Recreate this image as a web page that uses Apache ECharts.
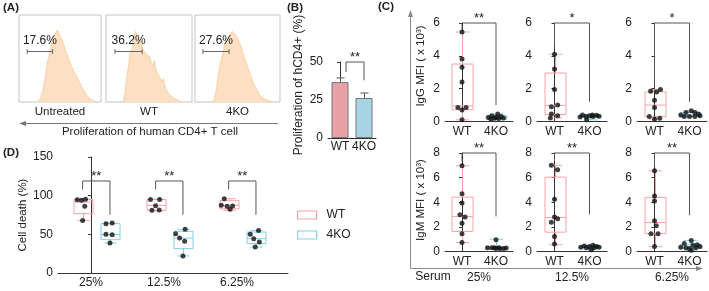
<!DOCTYPE html>
<html>
<head>
<meta charset="utf-8">
<title>CD4 proliferation / MFI / cell death</title>
<style>html,body{margin:0;padding:0;background:#fff;}</style>
</head>
<body>
<div id="container" style="width:709px;height:291px;"></div>
<script src="https://cdn.jsdelivr.net/npm/echarts@6/dist/echarts.min.js"></script>
<script>
// ---------- (A) flow histograms: [position %, height %]
var histUntreated = [[23,0],[27,5],[29,13],[32,28],[34,42],[37,55],[38,60],[40,68],[42,75],[43,73],[45,79],[47,83],[48,80],[49,82],[50,78],[52,72],[54,68],[56,61],[58.5,55],[61,48],[64,41],[67,35],[71,28],[74,22],[78,15],[80.5,11],[84,6],[88,3],[93,0]];
var histWT = [[20,0],[22,10],[24,29],[26,40],[27,38],[28,56],[30,60],[32,74],[33,72],[34,81],[35,79],[36,78],[37,70],[39,64],[40,72],[41,66],[43,60],[45,57],[47,54],[49,55],[51,52],[53,44],[54,40],[56,48],[57,42],[59,35],[62,29],[65,23],[67,27],[68,20],[70,14],[72,11],[74,8],[77,6],[80,4],[84,2],[88,0]];
var hist4KO = [[22,0],[25.5,17],[27,28],[29,41],[31,50],[33,56],[35,67],[37,71],[39,75],[41,78],[42,79],[44,81],[45,82],[46,80],[48,77],[50,74],[51,71],[53,66],[54,64],[56,58],[57,55],[59,48],[61,43],[63,37],[65,32],[67,26],[69,21],[71,17],[73,14],[76,8],[78,6],[80,5],[83,3],[86,2],[92,0]];
var histNames = ['Untreated', 'WT', '4KO'];
var gatePct = ['17.6%', '36.2%', '27.6%'];
var gateRange = [[10, 41], [10.5, 42], [9.4, 40]];
var gateLevel = 59;

// ---------- (B) proliferation bars
var bGroups = ['WT', '4KO'];
var bMean = [36.8, 26.3];
var bSd = [2.7, 3.3];
var bSig = '**';
var bBracket = [43.4, 38, 50]; // WT leg end, 4KO leg end, top

// ---------- (C) IgG / IgM MFI (x10^3), boxes [min, q1, median, q3, max], points [value, jitter]
var serum = ['25%', '12.5%', '6.25%'];
var cGroups = ['WT', '4KO'];
var igG_WT_box = [[0.1,0.72,0.95,3.5,5.45],[0.22,0.42,0.98,2.95,4.1],[0.15,0.3,1.0,1.8,1.95]];
var igG_KO_box = [[0.1,0.15,0.22,0.35,0.45],[0.1,0.25,0.32,0.4,0.42],[0.3,0.32,0.38,0.55,0.65]];
var igG_WT_pts = [
  [[5.45,0],[3.8,0],[3.3,0],[2.4,0],[0.85,-0.12],[0.85,0.12],[0.7,0],[0.1,0]],
  [[4.1,0],[3.2,0],[1.95,0],[1.0,0.09],[0.9,-0.09],[0.45,-0.09],[0.35,0.09],[0.22,-0.12]],
  [[1.95,0.17],[1.85,-0.11],[1.8,0.06],[1.3,0],[0.85,0],[0.3,-0.15],[0.15,0],[0.2,0.15]]
];
var igG_KO_pts = [
  [[0.45,0.05],[0.35,-0.12],[0.3,0.15],[0.25,-0.22],[0.22,0.22],[0.2,-0.05],[0.18,0.08],[0.15,-0.15],[0.25,0]],
  [[0.4,-0.2],[0.38,0.2],[0.35,0],[0.3,-0.1],[0.3,0.1],[0.28,-0.27],[0.32,0.27],[0.1,-0.08],[0.4,0.08]],
  [[0.65,0.05],[0.55,-0.1],[0.55,0.15],[0.45,0.25],[0.4,-0.25],[0.35,0.3],[0.3,-0.15],[0.3,0],[0.3,0.15]]
];
var igG_sig = ['**', '*', '*'];
var igG_bracket = [[5.6,1.0,6],[4.55,1.2,6],[2.2,1.2,6]];

var igM_WT_box = [[0.73,1.63,2.85,4.42,6.96],[0.55,1.57,2.76,6.04,7.0],[0.4,1.45,2.35,4.4,6.55]];
var igM_KO_box = [[0.2,0.22,0.27,0.35,1.0],[0.15,0.3,0.38,0.45,0.5],[0.1,0.25,0.35,0.55,0.9]];
var igM_WT_pts = [
  [[6.96,0],[4.7,0],[3.93,0],[2.98,-0.06],[2.8,0.09],[2.3,0],[1.45,0],[0.73,0]],
  [[7.0,-0.09],[6.64,0.09],[4.25,0],[2.8,0],[2.65,0.09],[2.38,-0.09],[1.22,0],[0.6,0]],
  [[6.55,0],[4.5,0],[4.1,0],[2.5,0],[2.1,0.05],[1.45,-0.1],[1.45,0.1],[0.4,0]]
];
var igM_KO_pts = [
  [[0.95,0],[0.3,-0.25],[0.3,-0.12],[0.25,0],[0.25,0.12],[0.25,0.22],[0.28,0.3],[0.3,-0.05],[0.3,0.08]],
  [[0.5,0.1],[0.45,-0.15],[0.4,0.2],[0.4,0],[0.35,-0.25],[0.35,0.27],[0.3,0.12],[0.3,-0.08],[0.15,0.05]],
  [[0.9,0.05],[0.65,-0.15],[0.55,0.22],[0.5,0.1],[0.35,-0.25],[0.3,-0.1],[0.25,0],[0.3,0.18],[0.4,0.3],[0.1,0.05]]
];
var igM_sig = ['**', '**', '**'];
var igM_bracket = [[7.3,2.85,8],[7.3,3.0,8],[6.9,2.95,8]];

// ---------- (D) cell death (%)
var dConc = ['25%', '12.5%', '6.25%'];
var dWT_box = [[68,76.7,91.8,95,95.3],[80.5,81,87.5,95,95.3],[81,83,87.5,93.5,96]];
var dKO_box = [[38.8,43.1,49.6,63.8,64.7],[22,31.5,45,53.9,56.5],[33.6,38,44.4,53,55]];
var dWT_pts = [
  [[94.8,-0.073],[94,-0.014],[95.3,0.04],[86.2,0.03],[68,0]],
  [[95,-0.07],[95,0.055],[87,0],[81,-0.05],[81.5,0.05]],
  [[96,-0.06],[87.5,-0.1],[86.2,-0.02],[86.6,0.055],[82.3,0.02]]
];
var dKO_pts = [
  [[63.8,-0.055],[64.7,0.03],[50,-0.055],[49.6,0.03],[38.8,0]],
  [[50.9,-0.1],[56.5,0.03],[45.3,-0.046],[41,0.023],[22,0]],
  [[55,0.036],[50,-0.078],[44.4,-0.03],[40,0.046],[33.6,-0.01]]
];
var dSig = ['**', '**', '**'];
var dBracket = [108, 75.4, 119];

// ---------- styles
var FONT = 'Liberation Sans, Arial, Helvetica, sans-serif';
var PINK = '#f4a2a7', BLUE = '#83cfe8', DOT = '#111', AX = '#333', TXT = '#222';
var WT_OFF = -0.115, KO_OFF = 0.26; // (D) box offsets around each label

var grids = [], xAxes = [], yAxes = [], series = [];

function lineEl(x1, y1, x2, y2, color, w) {
  return {type: 'line', shape: {x1: x1, y1: y1, x2: x2, y2: y2}, style: {stroke: color, lineWidth: w || 1}};
}
function textStyle(size, extra) {
  return Object.assign({fontSize: size, color: TXT, fontFamily: FONT}, extra || {});
}
function addGrid(g) {
  grids.push(Object.assign({outerBoundsMode: 'none', containLabel: false}, g));
  return grids.length - 1;
}
function valueY(gi, min, max, interval, show) {
  yAxes.push({
    gridIndex: gi, type: 'value', min: min, max: max, interval: interval, show: show !== false,
    axisLine: {show: true, lineStyle: {color: AX, width: 1}},
    axisTick: {show: true, length: 3, lineStyle: {color: AX}},
    axisLabel: textStyle(12, {margin: 5}),
    splitLine: {show: false}
  });
  return yAxes.length - 1;
}
function hiddenX(gi, min, max) {
  xAxes.push({gridIndex: gi, type: 'value', min: min, max: max, show: false, splitLine: {show: false}});
  return xAxes.length - 1;
}

function boxRenderer(color, boxW) {
  return function (params, api) {
    var x = api.value(0);
    var lo = api.coord([x, api.value(1)]), q1 = api.coord([x, api.value(2)]),
        md = api.coord([x, api.value(3)]), q3 = api.coord([x, api.value(4)]),
        hi = api.coord([x, api.value(5)]);
    var cx = Math.round(lo[0]) + 0.5, h = boxW / 2, c = boxW * 0.32;
    return {type: 'group', children: [
      lineEl(cx, lo[1], cx, q1[1], color),
      lineEl(cx, q3[1], cx, hi[1], color),
      lineEl(cx - c, lo[1], cx + c, lo[1], color),
      lineEl(cx - c, hi[1], cx + c, hi[1], color),
      {type: 'rect', shape: {x: cx - h, y: q3[1], width: boxW, height: q1[1] - q3[1]},
       style: {fill: 'none', stroke: color, lineWidth: 1}},
      lineEl(cx - h, md[1], cx + h, md[1], color)
    ]};
  };
}
function boxSeries(name, xi, yi, xs, stats, color, boxW) {
  return {
    type: 'custom', name: name, xAxisIndex: xi, yAxisIndex: yi, silent: true, z: 2,
    data: stats.map(function (s, i) { return [xs[i]].concat(s); }),
    encode: {x: 0, y: [1, 2, 3, 4, 5]},
    renderItem: boxRenderer(color, boxW)
  };
}
function dotSeries(xi, yi, groups) {
  var data = [];
  groups.forEach(function (g) {
    g.pts.forEach(function (p) { data.push([g.x + p[1], p[0]]); });
  });
  return {type: 'scatter', xAxisIndex: xi, yAxisIndex: yi, silent: true, z: 3,
    symbolSize: 5, itemStyle: {color: DOT}, data: data};
}
function bracketSeries(xi, yi, x1, x2, legs, stars) {
  return {
    type: 'custom', xAxisIndex: xi, yAxisIndex: yi, silent: true, z: 4,
    data: [[x1, x2, legs[0], legs[1], legs[2]]], encode: {x: [0, 1], y: [2, 3, 4]},
    renderItem: function (params, api) {
      var a = api.coord([api.value(0), api.value(2)]);
      var b = api.coord([api.value(0), api.value(4)]);
      var c = api.coord([api.value(1), api.value(4)]);
      var d = api.coord([api.value(1), api.value(3)]);
      return {type: 'group', children: [
        {type: 'polyline', shape: {points: [a, b, c, d]}, style: {stroke: '#555', fill: null, lineWidth: 1}},
        {type: 'text', x: (b[0] + c[0]) / 2, y: b[1] - 5,
         style: {text: stars, fill: TXT, fontSize: 13, fontFamily: FONT,
                 align: 'center', verticalAlign: 'middle', textAlign: 'center', textVerticalAlign: 'middle'}}
      ]};
    }
  };
}

// ---------- (A)
var aBoxes = [{left: 19, width: 82}, {left: 106, width: 86}, {left: 195, width: 85}];
var aHists = [histUntreated, histWT, hist4KO];
aBoxes.forEach(function (b, i) {
  var gi = addGrid({left: b.left, top: 15, width: b.width, height: 87, show: true,
    borderColor: '#c4c4c4', borderWidth: 1, backgroundColor: 'transparent'});
  xAxes.push({gridIndex: gi, type: 'value', min: 0, max: 100,
    axisLine: {show: false}, axisTick: {show: false}, axisLabel: {show: false}, splitLine: {show: false},
    name: histNames[i], nameLocation: 'middle', nameGap: 4, nameTextStyle: textStyle(11.5)});
  var xi = xAxes.length - 1;
  var yi = valueY(gi, 0, 100, 50, false);
  series.push({type: 'line', xAxisIndex: xi, yAxisIndex: yi, silent: true, symbol: 'none',
    data: aHists[i], lineStyle: {color: '#f6c897', width: 0.8}, areaStyle: {color: '#fde0c3', opacity: 1}, z: 1});
  var label = gatePct[i];
  series.push({type: 'custom', xAxisIndex: xi, yAxisIndex: yi, silent: true, z: 3,
    data: [[gateRange[i][0], gateRange[i][1], gateLevel]], encode: {x: [0, 1], y: 2},
    renderItem: function (params, api) {
      var a = api.coord([api.value(0), api.value(2)]), c = api.coord([api.value(1), api.value(2)]);
      var y = Math.round(a[1]) + 0.5;
      return {type: 'group', children: [
        lineEl(a[0], y, c[0], y, '#666'),
        lineEl(a[0], y - 2.5, a[0], y + 2.5, '#666'),
        lineEl(c[0], y - 2.5, c[0], y + 2.5, '#666'),
        {type: 'text', x: (a[0] + c[0]) / 2, y: y - 11,
         style: {text: label, fill: TXT, fontSize: 12, fontFamily: FONT,
                 align: 'center', verticalAlign: 'middle', textAlign: 'center', textVerticalAlign: 'middle'}}
      ]};
    }});
});

// ---------- (B)
(function () {
  var gi = addGrid({left: 328, top: 62, width: 48, height: 76});
  xAxes.push({gridIndex: gi, type: 'category', data: bGroups, boundaryGap: true,
    axisLine: {lineStyle: {color: AX}}, axisTick: {show: false},
    axisLabel: textStyle(12, {margin: 3, interval: 0, hideOverlap: false})});
  var xc = xAxes.length - 1;
  var xv = hiddenX(gi, -0.5, 1.5);
  var yi = valueY(gi, 0, 50, 25);
  series.push({type: 'bar', xAxisIndex: xc, yAxisIndex: yi, silent: true, barWidth: 17, z: 2,
    data: bMean.map(function (v, i) {
      return {value: v, itemStyle: {color: i === 0 ? '#e8a2a6' : '#a5d5e5', borderColor: '#777', borderWidth: 1}};
    })});
  series.push({type: 'custom', xAxisIndex: xv, yAxisIndex: yi, silent: true, z: 3,
    data: bMean.map(function (v, i) { return [i, v, bSd[i]]; }), encode: {x: 0, y: 1},
    renderItem: function (params, api) {
      var x = api.value(0);
      var m = api.coord([x, api.value(1)]), t = api.coord([x, api.value(1) + api.value(2)]);
      var cx = Math.round(m[0]) + 0.5;
      return {type: 'group', children: [lineEl(cx, m[1], cx, t[1], '#555'), lineEl(cx - 4, t[1], cx + 4, t[1], '#555')]};
    }});
  series.push(bracketSeries(xv, yi, 0.25, 1.0, bBracket, bSig));
})();

// ---------- (C)
var cCols = [{left: 445, width: 68}, {left: 537, width: 70}, {left: 637, width: 70}];
var cRows = [
  {top: 23, max: 6, wtBox: igG_WT_box, koBox: igG_KO_box, wtPts: igG_WT_pts, koPts: igG_KO_pts, sig: igG_sig, br: igG_bracket},
  {top: 153, max: 8, wtBox: igM_WT_box, koBox: igM_KO_box, wtPts: igM_WT_pts, koPts: igM_KO_pts, sig: igM_sig, br: igM_bracket}
];
cRows.forEach(function (row, r) {
  cCols.forEach(function (col, k) {
    var gi = addGrid({left: col.left, top: row.top, width: col.width, height: 98.5});
    var ax = {gridIndex: gi, type: 'value', min: -0.5, max: 1.5,
      axisLine: {show: true, lineStyle: {color: AX}}, axisTick: {show: false}, splitLine: {show: false},
      axisLabel: textStyle(12, {margin: 4, customValues: [0, 1], formatter: function (v) { return cGroups[Math.round(v)]; }})};
    if (r === 1) {
      ax.name = serum[k]; ax.nameLocation = 'middle'; ax.nameGap = 20; ax.nameTextStyle = textStyle(12);
    }
    xAxes.push(ax);
    var xi = xAxes.length - 1;
    var yi = valueY(gi, 0, row.max, 2);
    series.push(boxSeries('c', xi, yi, [0], [row.wtBox[k]], PINK, 21));
    series.push(boxSeries('c', xi, yi, [1], [row.koBox[k]], BLUE, 21));
    series.push(dotSeries(xi, yi, [{x: 0, pts: row.wtPts[k]}, {x: 1, pts: row.koPts[k]}]));
    series.push(bracketSeries(xi, yi, 0, 1, row.br[k], row.sig[k]));
  });
});

// ---------- (D)
(function () {
  var gi = addGrid({left: 58, top: 157, width: 230, height: 116});
  xAxes.push({gridIndex: gi, type: 'value', min: -0.452, max: 2.699,
    axisLine: {show: true, lineStyle: {color: AX}}, axisTick: {show: false}, splitLine: {show: false},
    axisLabel: textStyle(12, {margin: 4, customValues: [0, 1, 2], formatter: function (v) { return dConc[Math.round(v)]; }})});
  var xi = xAxes.length - 1;
  var yi = valueY(gi, 0, 150, 50);
  yAxes[yi].name = 'Cell death (%)';
  yAxes[yi].nameLocation = 'middle';
  yAxes[yi].nameGap = 24;
  yAxes[yi].nameTextStyle = textStyle(11.5);
  var wx = dConc.map(function (c, i) { return i + WT_OFF; });
  var kx = dConc.map(function (c, i) { return i + KO_OFF; });
  series.push(boxSeries('WT', xi, yi, wx, dWT_box, PINK, 19));
  series.push(boxSeries('4KO', xi, yi, kx, dKO_box, BLUE, 19));
  var groups = [];
  dConc.forEach(function (c, i) {
    groups.push({x: wx[i], pts: dWT_pts[i]});
    groups.push({x: kx[i], pts: dKO_pts[i]});
  });
  series.push(dotSeries(xi, yi, groups));
  dConc.forEach(function (c, i) {
    series.push(bracketSeries(xi, yi, wx[i], kx[i], dBracket, dSig[i]));
  });
})();

// ---------- decorations
function txt(x, y, s, size, extra) {
  return Object.assign({type: 'text', x: x, y: y, silent: true,
    style: {text: s, fill: TXT, fontSize: size, fontFamily: FONT,
      align: 'left', verticalAlign: 'middle', textAlign: 'left', textVerticalAlign: 'middle'}}, extra || {});
}
function ctxt(x, y, s, size, rot) {
  var t = txt(x, y, s, size);
  t.style.align = t.style.textAlign = 'center';
  if (rot) t.rotation = rot;
  return t;
}
var gray = '#8a8a8a';
var graphics = [
  Object.assign(txt(3, 8, '(A)', 11.5), {}),
  txt(287, 8, '(B)', 11.5),
  txt(378, 7, '(C)', 11.5),
  txt(3, 153, '(D)', 11.5),
  {type: 'line', silent: true, shape: {x1: 24, y1: 123.5, x2: 278, y2: 123.5}, style: {stroke: '#777', lineWidth: 1}},
  {type: 'polygon', silent: true, shape: {points: [[19, 123.5], [26, 121], [26, 126]]}, style: {fill: '#777'}},
  ctxt(150, 132, 'Proliferation of human CD4+ T cell', 11.5),
  ctxt(299, 85, 'Proliferation of hCD4+ (%)', 12, Math.PI / 2),
  {type: 'line', silent: true, shape: {x1: 410.5, y1: 15, x2: 410.5, y2: 268.5}, style: {stroke: gray, lineWidth: 1}},
  {type: 'line', silent: true, shape: {x1: 410.5, y1: 268.5, x2: 698, y2: 268.5}, style: {stroke: gray, lineWidth: 1}},
  {type: 'polygon', silent: true, shape: {points: [[410.5, 10], [408, 17], [413, 17]]}, style: {fill: gray}},
  {type: 'polygon', silent: true, shape: {points: [[703, 268.5], [696, 266], [696, 271]]}, style: {fill: gray}},
  ctxt(421, 66, 'IgG MFI ( x 10\u00b3)', 11.5, Math.PI / 2),
  ctxt(421, 200, 'IgM MFI ( x 10\u00b3)', 11.5, Math.PI / 2),
  ctxt(433, 277, 'Serum', 12)
];
graphics.forEach(function (g, i) { if (i < 4) g.style.fontWeight = 'bold'; });

var option = {
  animation: false,
  backgroundColor: '#fff',
  textStyle: {fontFamily: FONT},
  grid: grids,
  xAxis: xAxes,
  yAxis: yAxes,
  legend: {
    left: 292, top: 204, orient: 'vertical', itemGap: 8, itemWidth: 19, itemHeight: 8,
    selectedMode: false,
    textStyle: textStyle(12, {padding: [0, 0, 0, 5]}),
    data: [
      {name: 'WT', icon: 'rect', itemStyle: {color: '#fff', borderColor: PINK, borderWidth: 1.2}},
      {name: '4KO', icon: 'rect', itemStyle: {color: '#fff', borderColor: BLUE, borderWidth: 1.2}}
    ]
  },
  graphic: {elements: graphics},
  series: series
};

var myChart = echarts.init(document.getElementById('container'));
myChart.setOption(option);
window.addEventListener('resize', myChart.resize);
</script>
</body>
</html>
